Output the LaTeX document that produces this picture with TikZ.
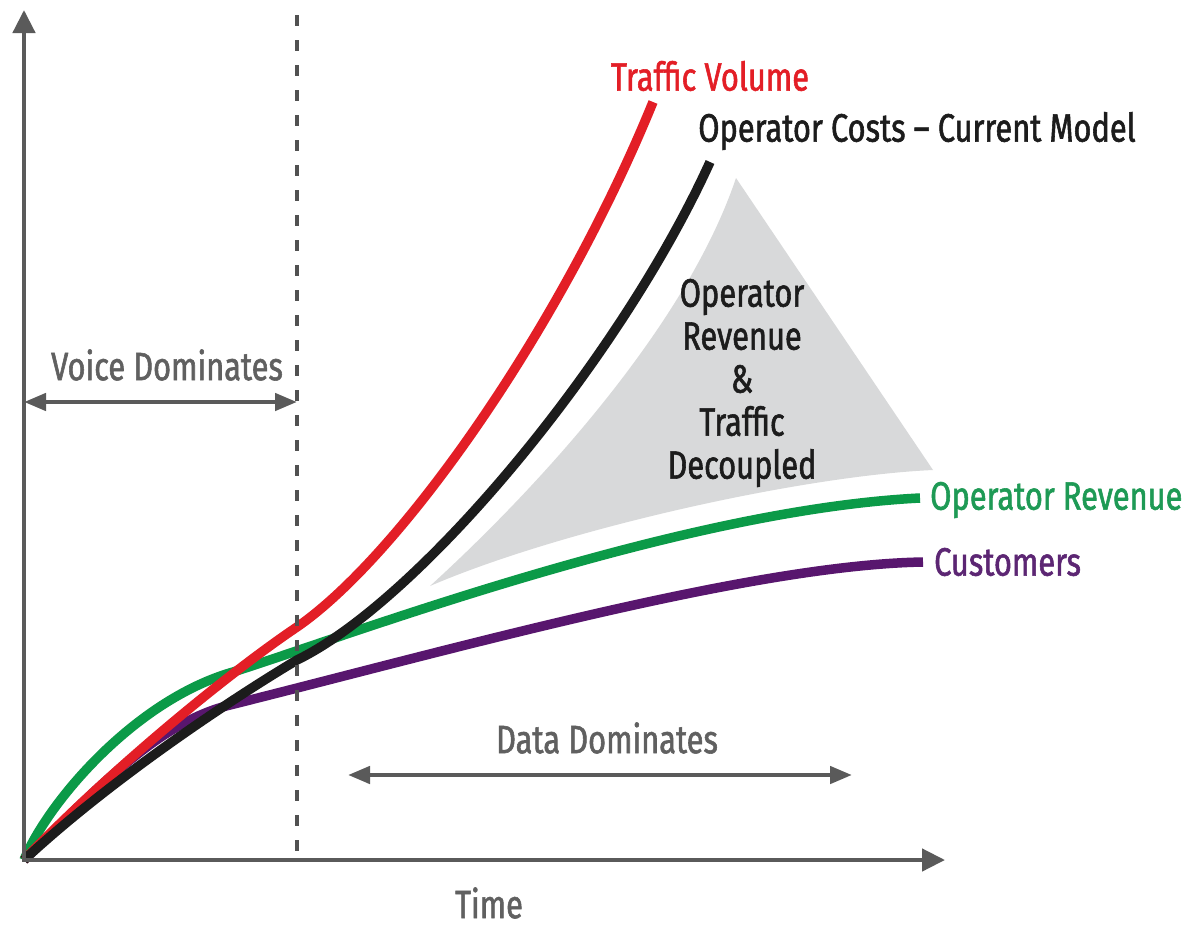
\documentclass[tikz,border=0pt]{standalone}
\usepackage{fontspec}
\setmainfont{Fira Sans}[FakeStretch=0.78, FakeBold=1.4]
\usetikzlibrary{arrows.meta}
\definecolor{axisgray}{HTML}{5A5A5A}
\definecolor{txtgray}{HTML}{606060}
\definecolor{tvred}{HTML}{E31E26}
\definecolor{costblack}{HTML}{1C1C1C}
\definecolor{revgreen}{HTML}{0B9A48}
\definecolor{custpurple}{HTML}{58166E}
\definecolor{trifill}{HTML}{D8D9DA}
\definecolor{revtext}{HTML}{1E9A55}
\definecolor{custtext}{HTML}{5C2673}
\tikzset{
  axisline/.style={draw=axisgray, line width=4.5pt, -{Triangle[length=23pt,width=22pt]}},
  spanarrow/.style={draw=axisgray, line width=4.5pt, {Triangle[length=22pt,width=17pt]}-{Triangle[length=22pt,width=17pt]}},
  dashline/.style={draw=axisgray!90!black, line width=4.5pt, dash pattern=on 11pt off 14pt},
  curve/.style={line width=9.5pt, line cap=butt},
  lbl/.style={inner sep=0pt, font=\fontsize{39.5}{43}\selectfont},
}
\begin{document}
\begin{tikzpicture}[x=1pt,y=-1pt]
\useasboundingbox (0,0) rectangle (1187,927);
\fill[white] (0,0) rectangle (1187,927);

% coordinates
\coordinate (O) at (24,860);
\coordinate (ytip) at (24,10);
\coordinate (xtip) at (945,860);
\coordinate (dtop) at (297,15);
\coordinate (dbot) at (297,860);
\coordinate (vl) at (24,402);
\coordinate (vr) at (297,402);
\coordinate (dl) at (348,775);
\coordinate (dr) at (852,775);
\coordinate (tapex) at (736,178);
\coordinate (tright) at (933,470);
\coordinate (tleft) at (430,586);

% gray decoupled region
\fill[trifill] (tapex) -- (tright)
  .. controls (800,476) and (560,530) .. (tleft)
  .. controls (530,495) and (685,330) .. (tapex) -- cycle;

% curves
\draw[curve, custpurple] (O) .. controls (100,785) and (160,722) .. (230,705)
  .. controls (450,650) and (750,565) .. (923,562);
\draw[curve, revgreen] (O) .. controls (48,802) and (135,700) .. (233,672)
  .. controls (350,635) and (680,510) .. (920,498);
\draw[curve, tvred] (O) .. controls (110,770) and (230,672) .. (297,627)
  .. controls (400,556) and (560,330) .. (653,102);
\draw[curve, costblack] (O) .. controls (110,780) and (230,700) .. (297,660)
  .. controls (420,600) and (620,360) .. (710,162);

% dashed divider
\draw[dashline] (dtop) -- (dbot);

% axes
\draw[axisline] (O) -- (ytip);
\draw[axisline] (22,860) -- (xtip);

% span arrows
\draw[spanarrow] (vl) -- (vr);
\draw[spanarrow] (dl) -- (dr);

% labels
\node[lbl, text=txtgray] (voice) at (167,365) {Voice Dominates};
\node[lbl, text=txtgray] (data) at (607,738) {Data Dominates};
\node[lbl, text=txtgray] (time) at (489,903) {Time};
\node[lbl, text=tvred] (tv) at (710,76) {Traffic Volume};
\node[lbl, text=costblack] (cost) at (917,131) {Operator Costs – Current Model};
\node[lbl, text=revtext, anchor=west] (rev) at (930,500) {Operator Revenue};
\node[lbl, text=custtext, anchor=west] (cust) at (934,562) {Customers};
\node[lbl, text=costblack, align=center] (dec) at (742,383) {Operator\\Revenue\\\&\\Traffic\\Decoupled};
\end{tikzpicture}
\end{document}
